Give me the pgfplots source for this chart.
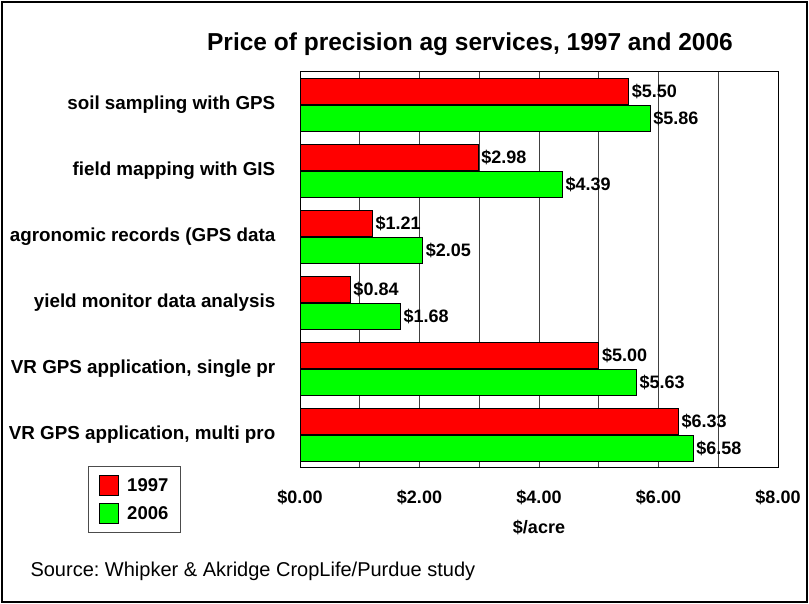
\documentclass[border=0pt]{standalone}
\usepackage{fontspec}
\setmainfont{Liberation Sans}
\usepackage{pgfplots}
\pgfplotsset{compat=1.18}
\definecolor{barred}{RGB}{255,0,0}
\definecolor{bargreen}{RGB}{0,255,0}
\frenchspacing
\begin{document}
\begin{tikzpicture}[x=1bp,y=1bp]
\path[use as bounding box] (0,0) rectangle (809,604);
\draw[line width=2.5bp] (2,2) rectangle (807,602);
\node[font=\fontsize{24.5bp}{27bp}\selectfont\bfseries] at (470,560) {Price of precision ag services, 1997 and 2006};
\node[anchor=west,font=\fontsize{20bp}{23bp}\selectfont] at (27,33) {Source: Whipker \& Akridge CropLife/Purdue study};
\begin{axis}[
  at={(300bp,136bp)}, anchor=south west,
  scale only axis, width=478bp, height=396bp,
  xbar, bar width=26bp,
  xmin=0, xmax=8, ymin=-0.5, ymax=5.5,
  xtick={0,1,2,3,4,5,6,7,8},
  xticklabels={\$0.00,,\$2.00,,\$4.00,,\$6.00,,\$8.00},
  /pgf/number format/assume math mode=true,
  ytick={0,1,2,3,4,5},
  yticklabels={VR GPS application{,} multi pro, VR GPS application{,} single pr, yield monitor data analysis, agronomic records (GPS data, field mapping with GIS, soil sampling with GPS},
  tick style={draw=none},
  xmajorgrids, grid style={black!75, line width=0.8bp},
  axis line style={black, line width=1bp},
  xticklabel style={font=\fontsize{18bp}{20bp}\selectfont\bfseries, anchor=center, yshift=-29bp},
  yticklabel style={font=\fontsize{18.8bp}{21bp}\selectfont\bfseries, anchor=east, xshift=-17bp},
  xlabel={\$/acre},
  xlabel style={at={(axis description cs:0.5,0)}, anchor=center, yshift=-59bp, font=\fontsize{18bp}{20bp}\selectfont\bfseries},
  nodes near coords={\$\pgfmathprintnumber[fixed,fixed zerofill,precision=2]{\pgfplotspointmeta}},
  nodes near coords style={font=\fontsize{18bp}{20bp}\selectfont\bfseries, anchor=west, inner xsep=3bp, black},
  legend image code/.code={\draw[#1, line width=0.6bp] (0bp,-10bp) rectangle (19bp,10bp); \path (0bp,0bp) (26bp,0bp);},
  legend style={at={(axis description cs:-0.443,0.005)}, anchor=north west, draw=black!70, line width=0.8bp, font=\fontsize{18.5bp}{20bp}\selectfont\bfseries, inner xsep=10bp, inner ysep=9bp, row sep=7bp, legend cell align=left},
]
\addplot[fill=barred, draw=black, line width=0.6bp, bar shift=13.75bp] coordinates {(5.50,5) (2.98,4) (1.21,3) (0.84,2) (5.00,1) (6.33,0)};
\addplot[fill=bargreen, draw=black, line width=0.6bp, bar shift=-13.75bp] coordinates {(5.86,5) (4.39,4) (2.05,3) (1.68,2) (5.63,1) (6.58,0)};
\legend{1997,2006}
\draw[black!55, line width=1.2bp] ([yshift=-2.5bp]rel axis cs:0,0) -- ([xshift=2.5bp,yshift=-2.5bp]rel axis cs:1,0) -- ([xshift=2.5bp]rel axis cs:1,1);
\end{axis}
\end{tikzpicture}
\end{document}
